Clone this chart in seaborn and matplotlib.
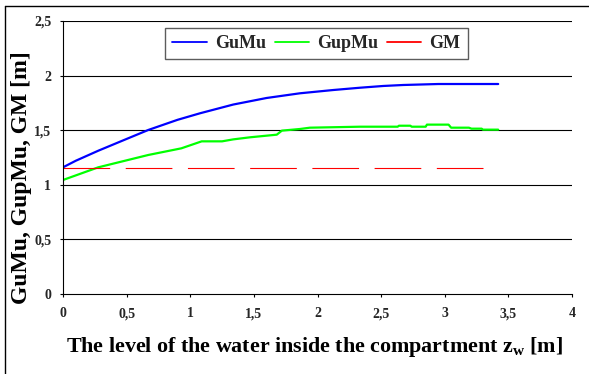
import matplotlib
matplotlib.use("Agg")
import matplotlib.pyplot as plt
from matplotlib.lines import Line2D
import numpy as np
import pandas as pd
import seaborn as sns

# ---- data ----
gumu_x = [0.0, 0.10, 0.277, 0.50, 0.67, 0.90, 1.077, 1.338, 1.60, 1.862, 2.124,
          2.334, 2.517, 2.674, 2.95, 3.42]
gumu_y = [1.160, 1.220, 1.312, 1.420, 1.502, 1.595, 1.655, 1.735, 1.795, 1.838, 1.868,
          1.889, 1.905, 1.914, 1.923, 1.923]

gupmu_x = [0.0, 0.277, 0.67, 0.93, 1.09, 1.25, 1.338, 1.47, 1.68, 1.72, 1.862, 1.94,
           2.334, 2.63, 2.64, 2.73, 2.74, 2.85, 2.86, 3.03, 3.05, 3.19, 3.21, 3.29,
           3.30, 3.42]
gupmu_y = [1.044, 1.160, 1.273, 1.334, 1.398, 1.398, 1.416, 1.435, 1.459, 1.496, 1.511,
           1.523, 1.532, 1.532, 1.541, 1.541, 1.532, 1.532, 1.551, 1.551, 1.523, 1.523,
           1.514, 1.514, 1.505, 1.505]

gm_x = [0.0, 3.34]
gm_y = [1.15, 1.15]

x_ticks = [0, 0.5, 1, 1.5, 2, 2.5, 3, 3.5, 4]
x_tick_labels = ["0", "0,5", "1", "1,5", "2", "2,5", "3", "3,5", "4"]
y_ticks = [0, 0.5, 1, 1.5, 2, 2.5]
y_tick_labels = ["0", "0,5", "1", "1,5", "2", "2,5"]

series_names = ["GuMu", "GupMu", "GM"]
series_colors = ["#0000FF", "#00FF00", "#FF0000"]

# ---- build table ----
df = pd.concat([
    pd.DataFrame({"x": gumu_x, "y": gumu_y, "series": "GuMu"}),
    pd.DataFrame({"x": gupmu_x, "y": gupmu_y, "series": "GupMu"}),
    pd.DataFrame({"x": gm_x, "y": gm_y, "series": "GM"}),
], ignore_index=True)

sns.set_theme(style="white")
plt.rcParams["font.family"] = ["Liberation Serif", "DejaVu Serif"]
plt.rcParams["mathtext.fontset"] = "custom"
plt.rcParams["mathtext.rm"] = "Liberation Serif:bold"
plt.rcParams["mathtext.bf"] = "Liberation Serif:bold"

W, H = 589, 374
fig = plt.figure(figsize=(W / 100, H / 100), dpi=100)
fig.patch.set_facecolor("white")
ax = fig.add_axes([63 / W, 1 - 294 / H, (572 - 63) / W, (294 - 21) / H])
ax.set_facecolor("white")
AXW, AXH = 572 - 63, 294 - 21

lw_gm = 0.8
sns.lineplot(data=df, x="x", y="y", hue="series", style="series",
             hue_order=series_names, style_order=series_names,
             palette=dict(zip(series_names, series_colors)),
             dashes={"GuMu": "", "GupMu": "",
                     "GM": (33.6 / lw_gm, 11.2 / lw_gm)},
             size="series", sizes={"GuMu": 1.6, "GupMu": 1.6, "GM": lw_gm},
             estimator=None, sort=False, ax=ax, legend=False)

ax.set_xlim(0, 4)
ax.set_ylim(0, 2.5)
ax.set_xticks(x_ticks)
ax.set_xticklabels(x_tick_labels, fontsize=10, fontweight="bold")
ax.set_yticks(y_ticks)
ax.set_yticklabels(y_tick_labels, fontsize=10, fontweight="bold")
ax.tick_params(axis="both", direction="out", length=2.5, width=0.8, color="black",
               bottom=True, left=True)
ax.tick_params(axis="x", pad=7)
ax.tick_params(axis="y", pad=6)

for yv in y_ticks[1:]:
    ax.axhline(yv, color="black", lw=0.8, zorder=0)

for s in ["top", "right"]:
    ax.spines[s].set_visible(False)
for s in ["left", "bottom"]:
    ax.spines[s].set_color("black")
    ax.spines[s].set_linewidth(0.8)

ax.set_xlabel(r"The level of the water inside the compartment z$_{\mathrm{w}}$ [m]",
              fontsize=15.8, fontweight="bold", color="black")
ax.set_ylabel("GuMu, GupMu, GM [m]", fontsize=17, fontweight="bold", color="black")
ax.xaxis.set_label_coords((314 - 63) / AXW, -(335 - 294) / AXH)
ax.yaxis.set_label_coords(-(63 - 32) / AXW, (294 - 178) / AXH)

handles = [Line2D([], [], color=c, lw=1.3) for c in series_colors]
leg = fig.legend(handles, series_names, loc="upper left",
                 bbox_to_anchor=(165 / W, 1 - 28 / H), ncol=3,
                 prop={"family": "Liberation Serif", "weight": "bold", "size": 13},
                 frameon=True, fancybox=False, shadow=False,
                 handlelength=1.9, handletextpad=0.45, columnspacing=0.5,
                 borderpad=0.4, borderaxespad=0)
leg.get_frame().set_edgecolor("#333333")
leg.get_frame().set_linewidth(1.0)

# outer chart frame (left and top edges visible in the reference)
fig.add_artist(Line2D([5 / W, 5 / W], [0, 1 - 6 / H], color="black", lw=1.0,
                      transform=fig.transFigure))
fig.add_artist(Line2D([5 / W, 1], [1 - 6 / H, 1 - 6 / H], color="black", lw=1.0,
                      transform=fig.transFigure))

fig.savefig("out.png", dpi=100)
